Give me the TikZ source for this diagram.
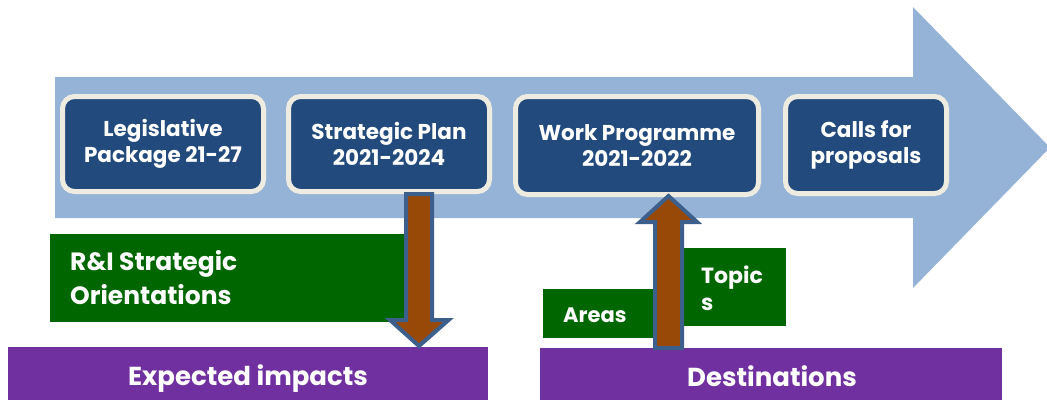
\documentclass[tikz,border=0pt]{standalone}
\usepackage{fontspec}
\setmainfont{Poppins}
\definecolor{lblue}{HTML}{95B3D7}
\definecolor{dblue}{HTML}{224A7D}
\definecolor{cream}{HTML}{EEECE1}
\definecolor{dgreen}{HTML}{006600}
\definecolor{dpurple}{HTML}{7030A0}
\definecolor{brown}{HTML}{984807}
\definecolor{oline}{HTML}{3C5F8C}
\tikzset{
  stagebox/.style={draw=cream, line width=5pt, fill=dblue, rounded corners=12pt,
    text=white, font=\fontsize{21.5}{26}\selectfont\bfseries, align=center, inner sep=0pt},
  greenbox/.style={fill=dgreen, draw=none},
  purplebox/.style={fill=dpurple, draw=none},
  boxtext/.style={text=white, inner sep=0pt, align=left},
  blockarrow/.style={fill=brown, draw=oline, line width=4pt, line join=miter},
}
\begin{document}
\begin{tikzpicture}[x=1pt,y=-1pt]
\useasboundingbox (0,0) rectangle (1047,400);
% big arrow
\fill[lblue] (55,77) -- (913,77) -- (913,7) -- (1050,147.5) -- (913,288) -- (913,218) -- (55,218) -- cycle;
% stage boxes
\node[stagebox, minimum width=201pt, minimum height=95pt] (leg) at (163,144) {Legislative\\Package 21-27};
\node[stagebox, minimum width=201pt, minimum height=95pt] (sp) at (389,144) {Strategic Plan\\2021-2024};
\node[stagebox, minimum width=243pt, minimum height=98pt] (wp) at (637,145.5) {Work Programme\\2021-2022};
\node[stagebox, minimum width=161pt, minimum height=97pt] (calls) at (866,145) {Calls for\\proposals};
% green boxes
\fill[greenbox] (50,234) rectangle (412,322);
\node[boxtext, anchor=base west, font=\fontsize{25}{34}\selectfont\bfseries] (ri) at (70,304) {R\&I Strategic\\Orientations};
\fill[greenbox] (543,289) rectangle (660,338);
\node[boxtext, anchor=base west, font=\fontsize{21}{25}\selectfont\bfseries] (areas) at (563,322) {Areas};
\fill[greenbox] (675,248) rectangle (786,326);
\node[boxtext, anchor=base west, font=\fontsize{22}{27}\selectfont\bfseries] (topics) at (701,310) {Topic\\s};
% purple boxes
\fill[purplebox] (8,347) rectangle (488,400);
\node[boxtext, anchor=base, font=\fontsize{26}{30}\selectfont\bfseries] (ei) at (248,385) {Expected impacts};
\fill[purplebox] (540,348) rectangle (1002,400);
\node[boxtext, anchor=base, font=\fontsize{26}{30}\selectfont\bfseries] (dest) at (772,386) {Destinations};
% block arrows
\draw[blockarrow] (sp.south -| 406,0) -- (sp.south -| 432,0) -- (432,320) -- (448.5,320) -- (419,346) -- (390,320) -- (406,320) -- cycle;
\draw[blockarrow] (655,348) -- (682,348) -- (682,222) -- (697,222) -- (668.5,196) -- (640,222) -- (655,222) -- cycle;
\end{tikzpicture}
\end{document}
